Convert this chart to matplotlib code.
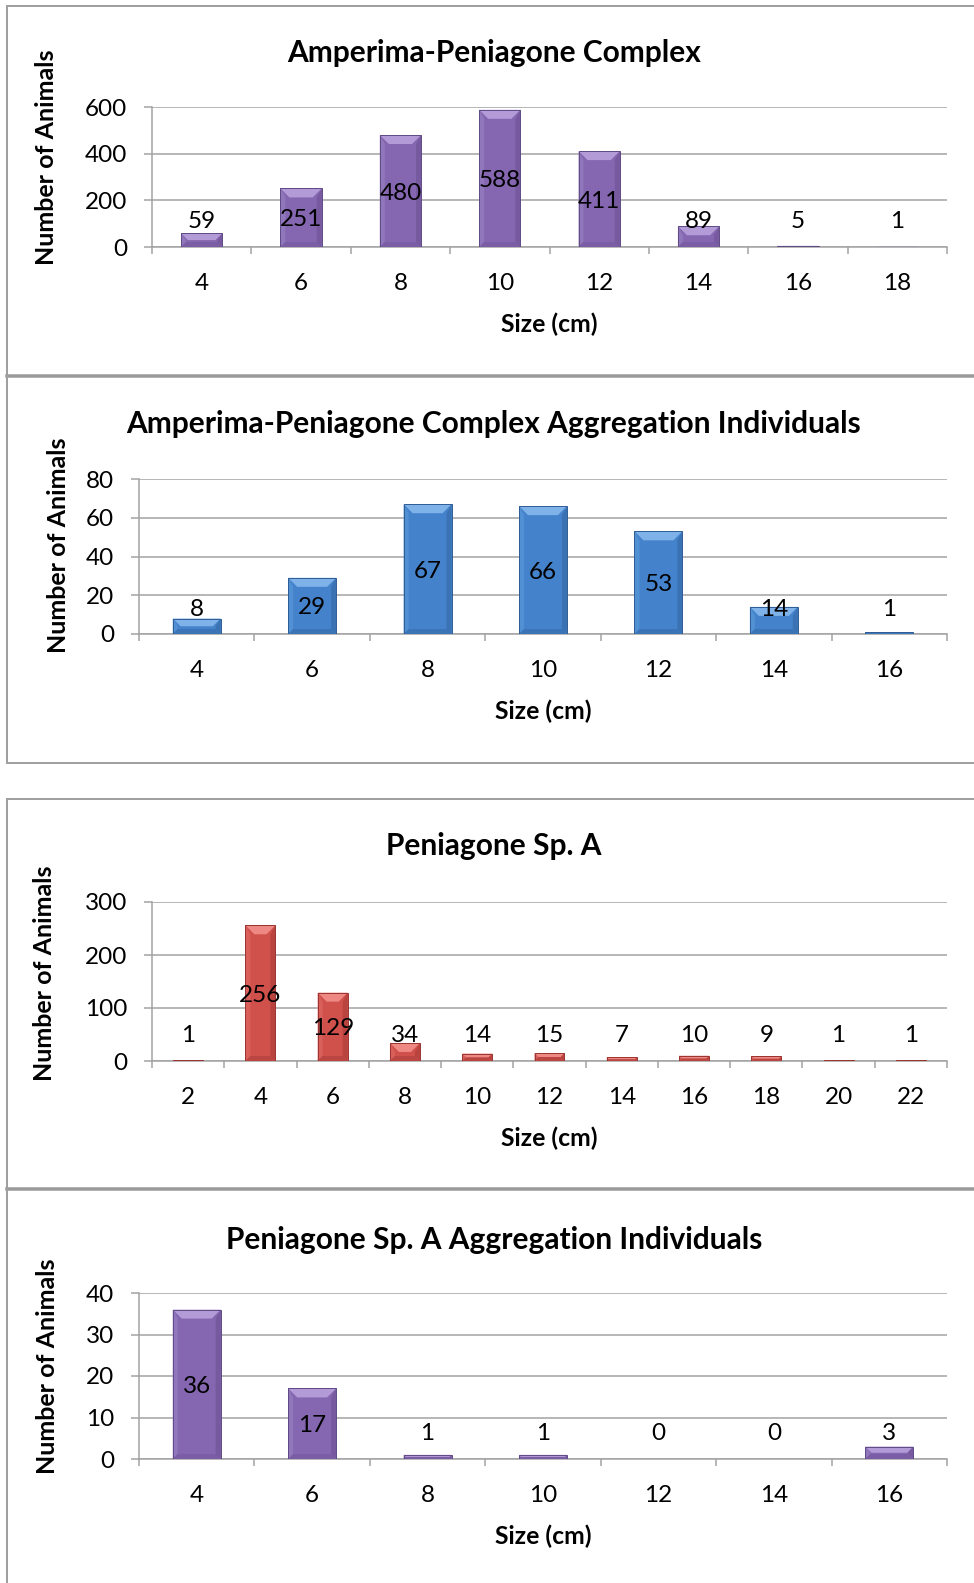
import matplotlib
matplotlib.use("Agg")
import matplotlib.pyplot as plt
from matplotlib.lines import Line2D
from matplotlib.patches import Polygon
import numpy as np

plt.rcParams['font.family'] = ['Lato', 'DejaVu Sans']

# ---------------- data ----------------
titles = ["Amperima-Peniagone Complex",
          "Amperima-Peniagone Complex Aggregation Individuals",
          "Peniagone Sp. A",
          "Peniagone Sp. A Aggregation Individuals"]

sizes1 = [4, 6, 8, 10, 12, 14, 16, 18]
counts1 = [59, 251, 480, 588, 411, 89, 5, 1]

sizes2 = [4, 6, 8, 10, 12, 14, 16]
counts2 = [8, 29, 67, 66, 53, 14, 1]

sizes3 = [2, 4, 6, 8, 10, 12, 14, 16, 18, 20, 22]
counts3 = [1, 256, 129, 34, 14, 15, 7, 10, 9, 1, 1]

sizes4 = [4, 6, 8, 10, 12, 14, 16]
counts4 = [36, 17, 1, 1, 0, 0, 3]

ymax = [600, 80, 300, 40]
ystep = [200, 20, 100, 10]

xlabel = "Size (cm)"
ylabel = "Number of Animals"

# ---------------- style ----------------
W, H = 974, 1583
DPI = 100
fig = plt.figure(figsize=(W / DPI, H / DPI), dpi=DPI)

PX = 72.0 / DPI  # points per pixel
GRID = '#A3A3A3'
BORDER = '#A0A0A0'

palettes = {
    'purple': dict(face='#8566B0', top='#B29BD6', left='#9076BA', right='#76599F',
                   bottom='#7A5DA5', edge='#5F4A85'),
    'blue': dict(face='#4483CB', top='#7FB2E8', left='#5290D4', right='#3A72B4',
                 bottom='#3B74B6', edge='#2F5C94'),
    'red': dict(face='#D0504B', top='#EE8883', left='#D85F5A', right='#B9433F',
                bottom='#BB4540', edge='#9A3431'),
}

# axes rectangles in pixels: x0, x1, ytop, ybottom
rects = [(152, 947, 107, 247),
         (139, 947, 479, 634),
         (152, 947, 902, 1061),
         (139, 947, 1293, 1459)]
title_y = [53, 424, 846, 1240]
ylabel_pos = [(47, 157), (58, 545), (45, 973), (48, 1366)]
colors = ['purple', 'blue', 'red', 'purple']
datasets = [(sizes1, counts1), (sizes2, counts2), (sizes3, counts3), (sizes4, counts4)]

TICK_FS = 17.5
TITLE_FS = 21.5
LABEL_FS = 18
XLABEL_FS = 17.8


def fx(x):
    return x / W


def fy(y):
    return 1 - y / H


def draw_bevel_bar(ax, xc, v, width, pal):
    if v <= 0:
        return
    T = ax.transData
    Ti = T.inverted()
    (x0, y0) = T.transform((xc - width / 2, 0))
    (x1, y1) = T.transform((xc + width / 2, v))
    hpx = y1 - y0
    d = min(9.0, hpx / 2.0)
    ds = min(5.0, hpx / 2.0)

    def poly(pts, color, z):
        data_pts = Ti.transform(np.array(pts))
        ax.add_patch(Polygon(data_pts, closed=True, facecolor=color,
                             edgecolor='none', zorder=z))

    # main face
    poly([(x0, y0), (x1, y0), (x1, y1), (x0, y1)], pal['face'], 3)
    # left and right bevels
    poly([(x0, y0), (x0 + ds, y0 + ds), (x0 + ds, y1 - d), (x0, y1)], pal['left'], 3.1)
    poly([(x1, y0), (x1 - ds, y0 + ds), (x1 - ds, y1 - d), (x1, y1)], pal['right'], 3.1)
    # bottom bevel
    poly([(x0, y0), (x1, y0), (x1 - ds, y0 + ds), (x0 + ds, y0 + ds)], pal['bottom'], 3.2)
    # top bevel
    poly([(x0, y1), (x1, y1), (x1 - d, y1 - d), (x0 + d, y1 - d)], pal['top'], 3.3)
    # outline
    data_pts = Ti.transform(np.array([(x0, y0), (x1, y0), (x1, y1), (x0, y1)]))
    ax.add_patch(Polygon(data_pts, closed=True, facecolor='none',
                         edgecolor=pal['edge'], linewidth=0.7, zorder=3.4))


for k in range(4):
    x0p, x1p, ytp, ybp = rects[k]
    ax = fig.add_axes([fx(x0p), fy(ybp), (x1p - x0p) / W, (ybp - ytp) / H])
    sizes, counts = datasets[k]
    n = len(sizes)
    pos = np.arange(n)
    ax.set_xlim(-0.5, n - 0.5)
    ax.set_ylim(0, ymax[k])
    ax.set_yticks(np.arange(0, ymax[k] + 1, ystep[k]))
    ax.set_xticks(pos)
    ax.set_xticklabels([str(s) for s in sizes])
    ax.set_xticks(np.arange(-0.5, n, 1.0), minor=True)
    ax.tick_params(axis='x', which='major', length=0, pad=19, labelsize=TICK_FS)
    ax.tick_params(axis='x', which='minor', length=7 * PX, width=1.1, color=GRID,
                   direction='out')
    ax.tick_params(axis='y', which='major', length=8 * PX, width=1.1, color=GRID,
                   direction='out', pad=12, labelsize=TICK_FS)
    ax.yaxis.grid(True, color=GRID, linewidth=1.1)
    ax.set_axisbelow(True)
    for s in ['top', 'right']:
        ax.spines[s].set_visible(False)
    for s in ['left', 'bottom']:
        ax.spines[s].set_color(GRID)
        ax.spines[s].set_linewidth(1.1)
        ax.spines[s].set_zorder(2.5)
    ax.patch.set_alpha(0)

    pal = palettes[colors[k]]
    bars = ax.bar(pos, counts, width=0.415, color=pal['face'], alpha=0.0)
    ppu = (ybp - ytp) / ymax[k]  # pixels per unit
    for b, v in zip(bars, counts):
        xc = b.get_x() + b.get_width() / 2
        draw_bevel_bar(ax, xc, v, b.get_width(), pal)
        ylab = max(v / 2.0, 27.0 / ppu) - 2.0 / ppu
        ax.text(xc, ylab, str(v), ha='center', va='center', fontsize=TICK_FS,
                color='black', zorder=5)

    # x label centred on axes
    fig.text(fx((x0p + x1p) / 2), fy(ybp + 77), xlabel, ha='center', va='center',
             fontsize=XLABEL_FS, fontweight='bold')
    # title centred on panel
    fig.text(fx(494), fy(title_y[k]), titles[k], ha='center', va='center',
             fontsize=TITLE_FS, fontweight='bold')
    # y label
    fig.text(fx(ylabel_pos[k][0]), fy(ylabel_pos[k][1]), ylabel, ha='center',
             va='center', rotation=90, fontsize=LABEL_FS, fontweight='bold')


# ---------------- panel borders ----------------
def hline(y, x0=7, x1=W, lw=1.5, color=BORDER):
    fig.add_artist(Line2D([fx(x0), fx(x1)], [fy(y), fy(y)], color=color,
                          linewidth=lw * PX, transform=fig.transFigure))


def vline(x, y0, y1, lw=2.0, color=BORDER):
    fig.add_artist(Line2D([fx(x), fx(x)], [fy(y0), fy(y1)], color=color,
                          linewidth=lw * PX, transform=fig.transFigure))


hline(6, lw=2)
vline(7, 6, 376)
hline(376, lw=3.5, color='#9A9A9A')
vline(7, 376, 763)
hline(763, lw=2)
hline(799, lw=2)
vline(7, 799, 1189)
hline(1189, lw=3.5, color='#9A9A9A')
vline(7, 1189, H)

fig.savefig("out.png", dpi=DPI, facecolor='white')
